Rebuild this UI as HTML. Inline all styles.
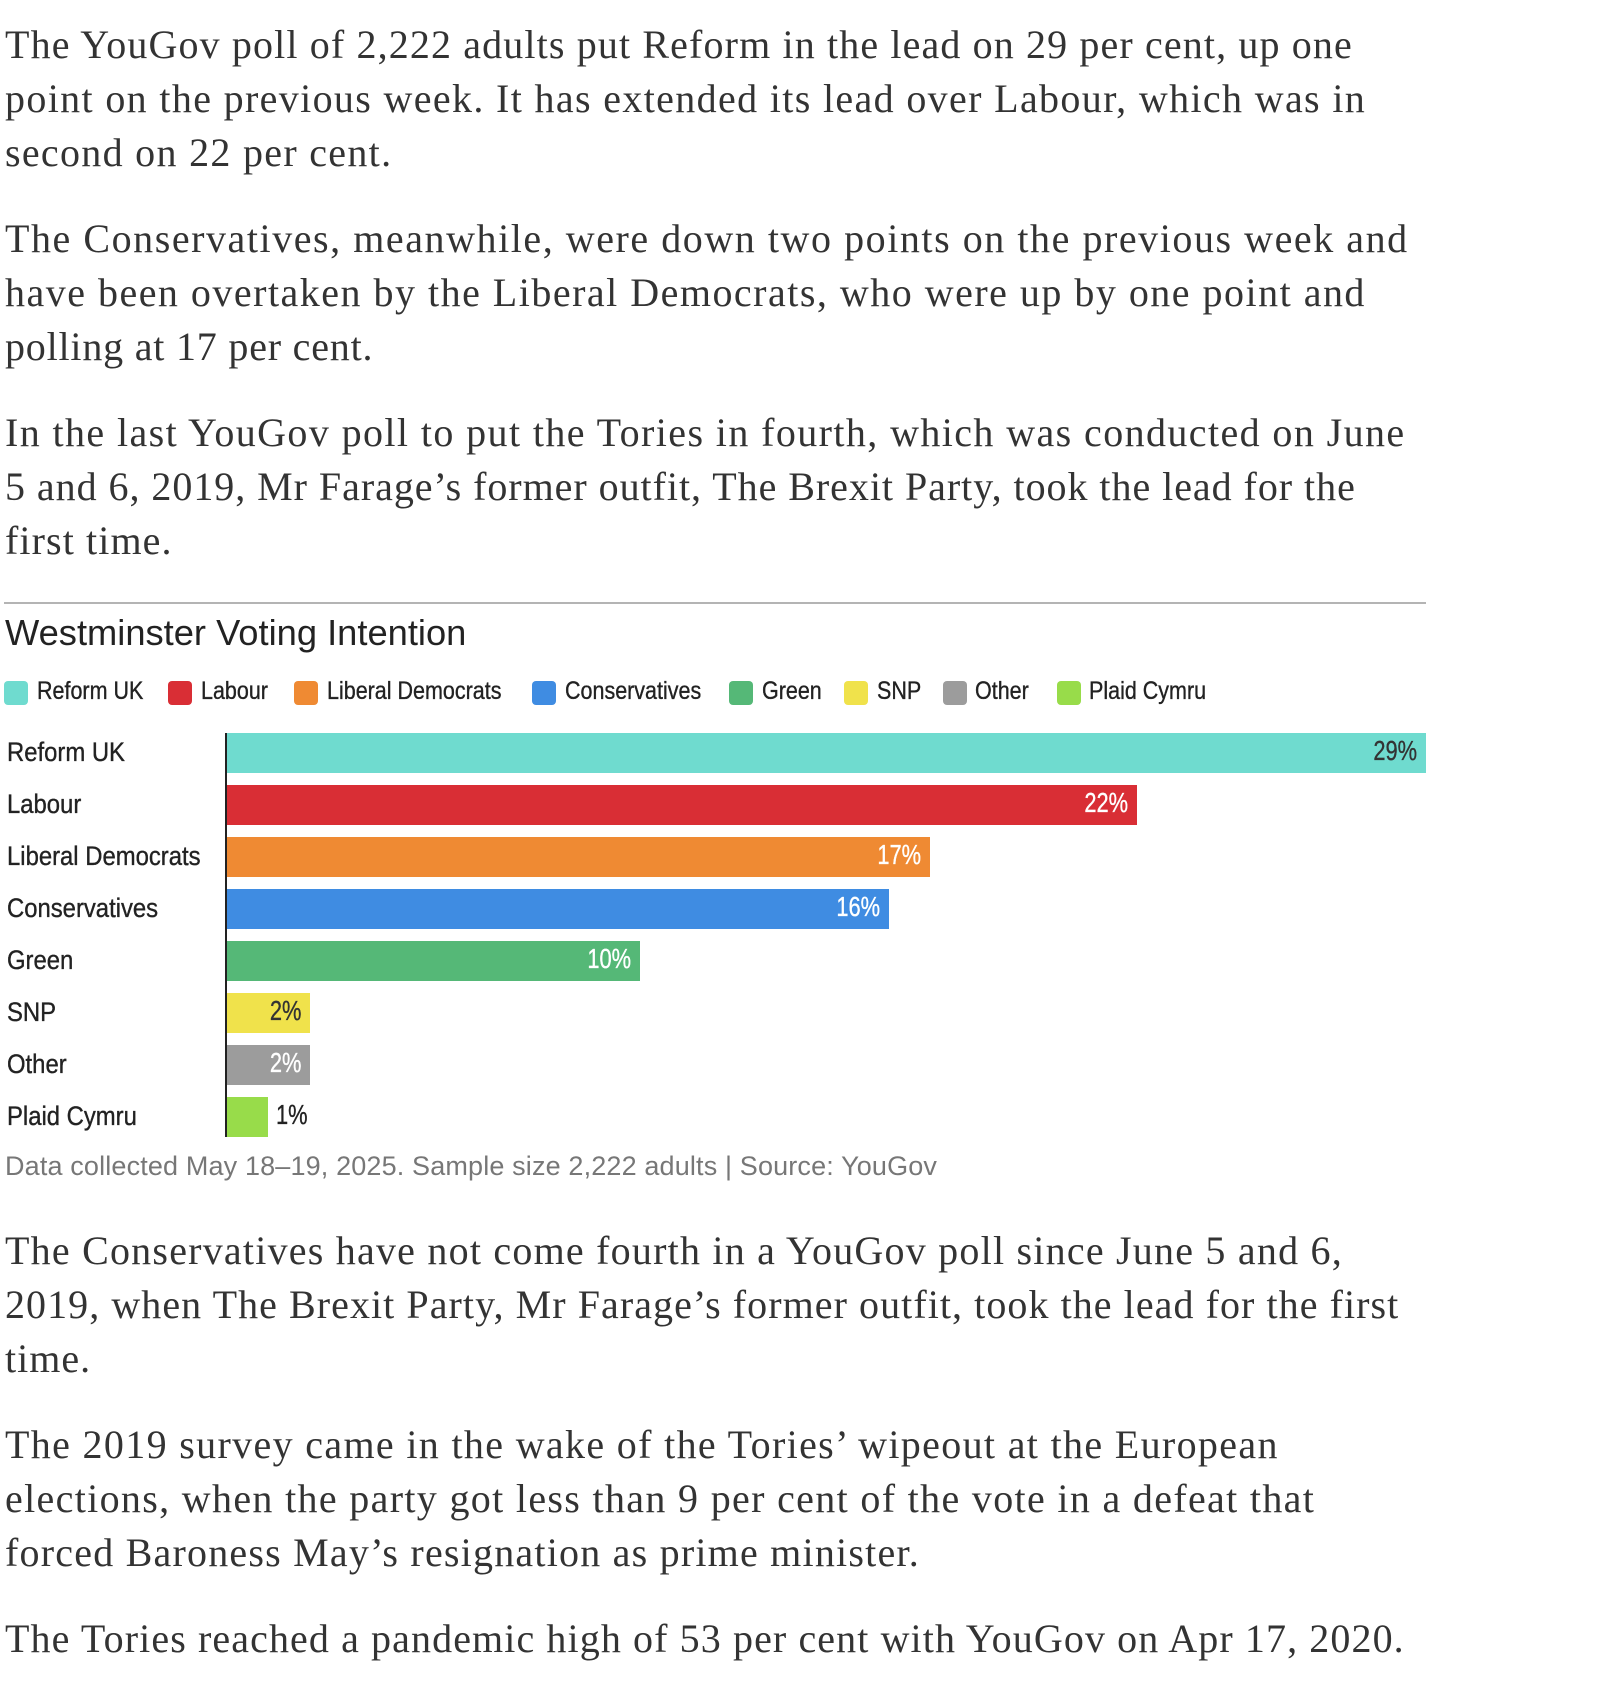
<!DOCTYPE html>
<html>
<head>
<meta charset="utf-8">
<style>
  html, body { margin:0; padding:0; background:#fff; }
  body { width:1602px; height:1686px; position:relative; overflow:hidden; }
  .p { position:absolute; left:5px; font-family:"Liberation Serif", serif; font-size:40px; line-height:54px; letter-spacing:1px; color:#333; white-space:nowrap; }
  .rule { position:absolute; left:4px; top:602px; width:1422px; height:2px; background:#b4b4b4; }
  .title { position:absolute; left:5px; top:615px; font-family:"Liberation Sans", sans-serif; font-size:36.3px; line-height:36px; color:#222; white-space:nowrap; }
  .sw { position:absolute; top:681px; width:24px; height:24px; border-radius:4px; }
  .lt { position:absolute; top:678.8px; font-family:"Liberation Sans", sans-serif; font-size:25px; line-height:25px; color:#222; white-space:nowrap; transform:scaleX(0.86); transform-origin:0 0; -webkit-text-stroke:0.35px #222; }
  .rl { position:absolute; left:7px; font-family:"Liberation Sans", sans-serif; font-size:26.5px; line-height:26px; color:#222; white-space:nowrap; transform:scaleX(0.9); transform-origin:0 0; -webkit-text-stroke:0.35px #222; }
  .bar { position:absolute; left:227px; height:40px; }
  .v { position:absolute; right:9px; top:4px; font-family:"Liberation Sans", sans-serif; font-size:28px; line-height:28px; white-space:nowrap; transform:scaleX(0.78); transform-origin:100% 0; -webkit-text-stroke:0.35px currentColor; }
  .axis { position:absolute; left:225px; top:733px; width:2px; height:404px; background:#222; }
  .foot { position:absolute; left:5px; top:1153px; font-family:"Liberation Sans", sans-serif; font-size:27px; line-height:27px; letter-spacing:0.15px; color:#777; white-space:nowrap; }
</style>
</head>
<body>

<div class="p" style="top:17.8px"><span style="letter-spacing:1.13px">The YouGov poll of 2,222 adults put Reform in the lead on 29 per cent, up one</span><br><span style="letter-spacing:1.35px">point on the previous week. It has extended its lead over Labour, which was in</span><br><span style="letter-spacing:1.3px">second on 22 per cent.</span></div>

<div class="p" style="top:211.8px"><span style="letter-spacing:1.55px">The Conservatives, meanwhile, were down two points on the previous week and</span><br><span style="letter-spacing:1.49px">have been overtaken by the Liberal Democrats, who were up by one point and</span><br><span style="letter-spacing:0.8px">polling at 17 per cent.</span></div>

<div class="p" style="top:405.8px"><span style="letter-spacing:1.4px">In the last YouGov poll to put the Tories in fourth, which was conducted on June</span><br><span style="letter-spacing:0.96px">5 and 6, 2019, Mr Farage’s former outfit, The Brexit Party, took the lead for the</span><br><span style="letter-spacing:1.1px">first time.</span></div>

<div class="rule"></div>
<div class="title">Westminster Voting Intention</div>

<!-- Legend -->
<div class="sw" style="left:4px;background:#6fdbcf"></div><div class="lt" style="left:37px">Reform UK</div>
<div class="sw" style="left:168px;background:#d92e35"></div><div class="lt" style="left:201px">Labour</div>
<div class="sw" style="left:294px;background:#ef8a33"></div><div class="lt" style="left:327px">Liberal Democrats</div>
<div class="sw" style="left:532px;background:#3f8ce2"></div><div class="lt" style="left:565px">Conservatives</div>
<div class="sw" style="left:729px;background:#55b877"></div><div class="lt" style="left:762px">Green</div>
<div class="sw" style="left:844px;background:#f0e24b"></div><div class="lt" style="left:877px">SNP</div>
<div class="sw" style="left:943px;background:#9c9c9c"></div><div class="lt" style="left:975px">Other</div>
<div class="sw" style="left:1057px;background:#98dc4a"></div><div class="lt" style="left:1089px">Plaid Cymru</div>

<!-- Row labels -->
<div class="rl" style="top:739px">Reform UK</div>
<div class="rl" style="top:791px">Labour</div>
<div class="rl" style="top:843px">Liberal Democrats</div>
<div class="rl" style="top:895px">Conservatives</div>
<div class="rl" style="top:947px">Green</div>
<div class="rl" style="top:999px">SNP</div>
<div class="rl" style="top:1051px">Other</div>
<div class="rl" style="top:1103px">Plaid Cymru</div>

<!-- Bars -->
<div class="bar" style="top:733px;width:1199px;background:#6fdbcf"><span class="v" style="color:#333">29%</span></div>
<div class="bar" style="top:785px;width:910px;background:#d92e35"><span class="v" style="color:#fff">22%</span></div>
<div class="bar" style="top:837px;width:703px;background:#ef8a33"><span class="v" style="color:#fff">17%</span></div>
<div class="bar" style="top:889px;width:662px;background:#3f8ce2"><span class="v" style="color:#fff">16%</span></div>
<div class="bar" style="top:941px;width:413px;background:#55b877"><span class="v" style="color:#fff">10%</span></div>
<div class="bar" style="top:993px;width:83px;background:#f0e24b"><span class="v" style="color:#333">2%</span></div>
<div class="bar" style="top:1045px;width:83px;background:#9c9c9c"><span class="v" style="color:#fff">2%</span></div>
<div class="bar" style="top:1097px;width:41px;background:#98dc4a"></div>
<div style="position:absolute;left:276px;top:1101px;font-family:'Liberation Sans',sans-serif;font-size:28px;line-height:28px;color:#222;white-space:nowrap;transform:scaleX(0.78);transform-origin:0 0;-webkit-text-stroke:0.35px #222">1%</div>

<div class="axis"></div>

<div class="foot">Data collected May 18–19, 2025. Sample size 2,222 adults | Source: YouGov</div>

<div class="p" style="top:1223.5px"><span style="letter-spacing:1.22px">The Conservatives have not come fourth in a YouGov poll since June 5 and 6,</span><br><span style="letter-spacing:1.06px">2019, when The Brexit Party, Mr Farage’s former outfit, took the lead for the first</span><br><span>time.</span></div>

<div class="p" style="top:1417.5px"><span style="letter-spacing:1.34px">The 2019 survey came in the wake of the Tories’ wipeout at the European</span><br><span style="letter-spacing:1.33px">elections, when the party got less than 9 per cent of the vote in a defeat that</span><br><span style="letter-spacing:1.21px">forced Baroness May’s resignation as prime minister.</span></div>

<div class="p" style="top:1611.5px"><span style="letter-spacing:1.1px">The Tories reached a pandemic high of 53 per cent with YouGov on Apr 17, 2020.</span></div>

</body>
</html>
